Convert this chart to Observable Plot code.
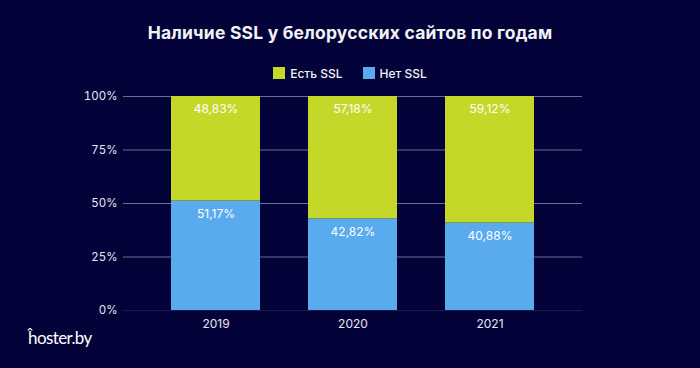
<!DOCTYPE html>
<html><head><meta charset="utf-8">
<script src="https://cdn.jsdelivr.net/npm/d3@7"></script>
<script src="https://cdn.jsdelivr.net/npm/@observablehq/plot@0.6"></script>
<style>
html,body{margin:0;padding:0;background:#03033a;}
#wrap{position:relative;width:700px;height:368px;background:#03033a;overflow:hidden;font-family:Inter,"Open Sans",sans-serif;}
#title{position:absolute;top:22px;left:0;width:700px;text-align:center;color:#f2f2f5;font-weight:700;font-size:17.5px;letter-spacing:0.2px;}
#legend{position:absolute;top:66px;left:0;width:700px;display:flex;justify-content:center;gap:20px;color:#f2f2f5;font-size:12px;font-weight:500;}
#legend span.sw{display:inline-block;width:12px;height:12px;margin-right:5px;vertical-align:-1px;}
#logo{position:absolute;left:28px;top:327px;color:#ffffff;font-size:17px;font-weight:400;letter-spacing:-0.6px;font-family:Lato,Inter,sans-serif;}
#chart{position:absolute;left:0;top:0;}
</style></head>
<body>
<div id="wrap">
  <div id="chart"></div>
  <div id="title">Наличие SSL у белорусских сайтов по годам</div>
  <div id="legend"></div>
  <div id="logo">ĥoster.by</div>
</div>
<script>
const years = ["2019", "2020", "2021"];
const seriesNames = ["Есть SSL", "Нет SSL"];
const seriesColors = ["#c5d82a", "#5aaaee"];
const hasSsl = [48.83, 57.18, 59.12];
const noSsl = [51.17, 42.82, 40.88];
const yTicks = [0, 25, 50, 75, 100];

const rows = [];
years.forEach((y, i) => {
  rows.push({year: y, series: "Нет SSL", value: noSsl[i], order: 0});
  rows.push({year: y, series: "Есть SSL", value: hasSsl[i], order: 1});
});
const fmt = v => v.toFixed(2).replace(".", ",") + "%";

const legend = document.getElementById("legend");
seriesNames.forEach((n, i) => {
  const d = document.createElement("div");
  d.innerHTML = `<span class="sw" style="background:${seriesColors[i]}"></span>${n}`;
  legend.appendChild(d);
});

const stackOpts = {x: "year", y: "value", z: "series", order: "order"};

const plot = Plot.plot({
  width: 700,
  height: 368,
  marginTop: 96,
  marginBottom: 58,
  marginLeft: 123,
  marginRight: 118,
  style: {background: "transparent", fontFamily: "Inter, 'Open Sans', sans-serif"},
  x: {domain: years, padding: 0.35, label: null},
  y: {domain: [0, 100], label: null},
  color: {domain: seriesNames, range: seriesColors},
  marks: [
    Plot.ruleY(yTicks.filter(t => t > 0), {stroke: "#6a6d8f", strokeWidth: 1.2}),
    Plot.ruleY([0], {stroke: "#1b1d4a", strokeWidth: 1.2}),
    Plot.barY(rows, Plot.stackY({...stackOpts, fill: "series"})),
    Plot.text(rows, Plot.stackY2({...stackOpts, text: d => fmt(d.value), fill: "#ffffff", dy: 13, fontSize: 12, fontWeight: 400})),
    Plot.axisY(yTicks, {tickSize: 0, tickPadding: 6, tickFormat: d => d + "%", fill: "#e6e6ee", fontSize: 11.5, label: null}),
    Plot.axisX({tickSize: 0, tickPadding: 9, fill: "#e6e6ee", fontSize: 12, label: null})
  ]
});
document.getElementById("chart").appendChild(plot);
</script>
</body></html>
